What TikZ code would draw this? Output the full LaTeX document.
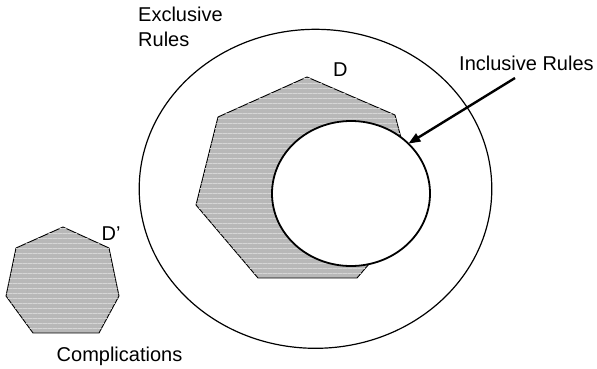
\documentclass[tikz,border=0pt]{standalone}
\usepackage{fontspec}
\setmainfont{Liberation Sans}
\usetikzlibrary{shapes.geometric,arrows.meta,patterns.meta}
\definecolor{shade}{RGB}{184,184,184}
\definecolor{band}{RGB}{214,214,214}
\begin{document}
\begin{tikzpicture}[x=1pt,y=-1pt,
  lbl/.style={anchor=base west,inner sep=0pt,font=\fontsize{20}{25}\selectfont},
  region/.style={draw=black,line width=0.9pt,fill=shade,line join=miter,
    postaction={pattern={Lines[angle=0,distance=5pt,line width=0.9pt]},pattern color=band}},
  ring/.style={ellipse,draw=black,inner sep=0pt,outer sep=0pt}]
\useasboundingbox (0,0) rectangle (597,368);

% outer set of exclusive rules
\node[ring,line width=1.2pt,minimum width=352.6pt,minimum height=319pt] (excl) at (315.5,188.8) {};

% large domain D
\draw[region] (196,205) -- (218,117) -- (307,77) -- (395,115) -- (419,206)
  -- (357,278) -- (258,278) -- cycle;

% inclusive rules inside D
\node[ring,line width=1.8pt,fill=white,minimum width=158pt,minimum height=145pt] (incl) at (351,193.5) {};

% small domain D'
\draw[region] (6,296) -- (16,248) -- (63,227) -- (109,248) -- (119,296)
  -- (99,333) -- (33,333) -- cycle;

% labels (a two-line node sits on the baseline of its last line)
\node[lbl,align=left] (exlbl) at (138,46.7) {Exclusive\\Rules};
\node[lbl] (dlbl) at (333,76.7) {D};
\node[lbl] (dplbl) at (101.5,240.7) {D’};
\node[lbl] (cmlbl) at (56.5,361.7) {Complications};
\node[lbl] (inlbl) at (459,70.7) {Inclusive Rules};

% pointer to the inclusive rules
\coordinate (arrstart) at (515,78);
\draw[line width=2.4pt,-{Triangle[length=12pt,width=9pt]}] (arrstart) -- (incl.41.6);
\end{tikzpicture}
\end{document}
